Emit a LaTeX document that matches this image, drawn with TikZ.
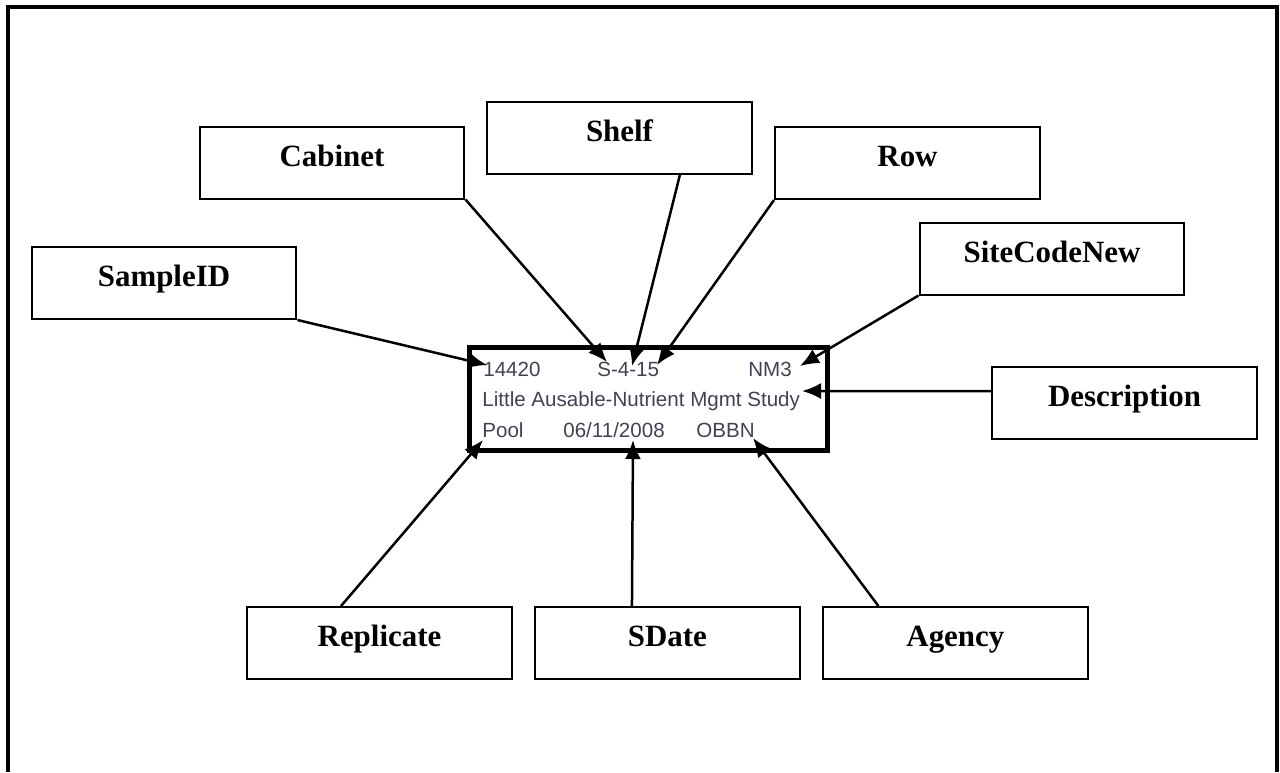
\documentclass[tikz,border=0pt]{standalone}
\usepackage{fontspec}
\setmainfont{Liberation Serif}
\newfontfamily\cardfont{Liberation Sans}
\usepackage{xcolor}
\usepackage{tikz}
\usetikzlibrary{arrows.meta}
\definecolor{cardink}{RGB}{68,64,84}

\begin{document}
\begin{tikzpicture}[x=0.02cm, y=-0.02cm, node distance=5.76cm,
	>={Latex[width=3.2mm,length=3.8mm]},
    field/.style = {rectangle, draw=black, line width=0.04cm,
                    minimum width=5.3cm, minimum height=1.44cm,
                    text height=0.7em, text depth=0.3em,
                    font=\fontsize{17.6}{20}\selectfont\bfseries},
    entry/.style = {anchor=base west, inner sep=0pt, text=cardink,
                    font=\cardfont\fontsize{11.7}{14}\selectfont}]
  \useasboundingbox (0,0) rectangle (1280,772);
  % page frame, open at the bottom
  \draw[line width=0.075cm] (8,772) -- (8,7) -- (1277,7) -- (1277,772);

  % the sample label
  \node (card) [draw, line width=0.1cm, minimum width=7.16cm,
                minimum height=2.06cm] at (648.5,399) {};
  \node (id) [entry] at (483,376) {14420};
  \node (loc) [entry] at (597,376) {S-4-15};
  \node (site) [entry] at (748,376) {NM3};
  \node (desc) [entry] at (482,406) {Little Ausable-Nutrient Mgmt Study};
  \node (rep) [entry] at (482,437) {Pool};
  \node (date) [entry] at (563,437) {06/11/2008};
  \node (agcy) [entry] at (696,437) {OBBN};

  % where the arrows land on the label
  \coordinate (idtip) at (487,365);
  \coordinate (cabtip) at (607,362);
  \coordinate (shelftip) at (632,366);
  \coordinate (rowtip) at (657,365);
  \coordinate (sitetip) at (800,366);
  \coordinate (desctip) at (802,391);
  \coordinate (reptip) at (483,440);
  \coordinate (datetip) at (633,440);
  \coordinate (agtip) at (753,438);

  % field names
  \node (sampleid) [field] at (164,283) {SampleID};
  \node (cabinet) [field] at (332,162.5) {Cabinet};
  \node (shelf) [field] at (619.5,137.5) {Shelf};
  \node (row) [field] at (907.5,163) {Row};
  \node (sitecode) [field] at (1052,258.5) {SiteCodeNew};
  \node (descr) [field] at (1124.5,403) {Description};
  \node (replicate) [field] at (379.5,643) {Replicate};
  \node (sdate) [field, right of=replicate] {SDate};
  \node (agency) [field, right of=sdate] {Agency};

  \path[->, line width=0.05cm]
    (sampleid.south east) edge (idtip)
    (cabinet.south east) edge (cabtip)
    ([xshift=1.21cm]shelf.south) edge (shelftip)
    (row.south west) edge (rowtip)
    (sitecode.south west) edge (sitetip)
    ([yshift=0.24cm]descr.west) edge (desctip)
    ([xshift=-0.77cm]replicate.north) edge (reptip)
    ([xshift=-0.71cm]sdate.north) edge (datetip)
    ([xshift=-1.54cm]agency.north) edge (agtip);
\end{tikzpicture}
\end{document}
